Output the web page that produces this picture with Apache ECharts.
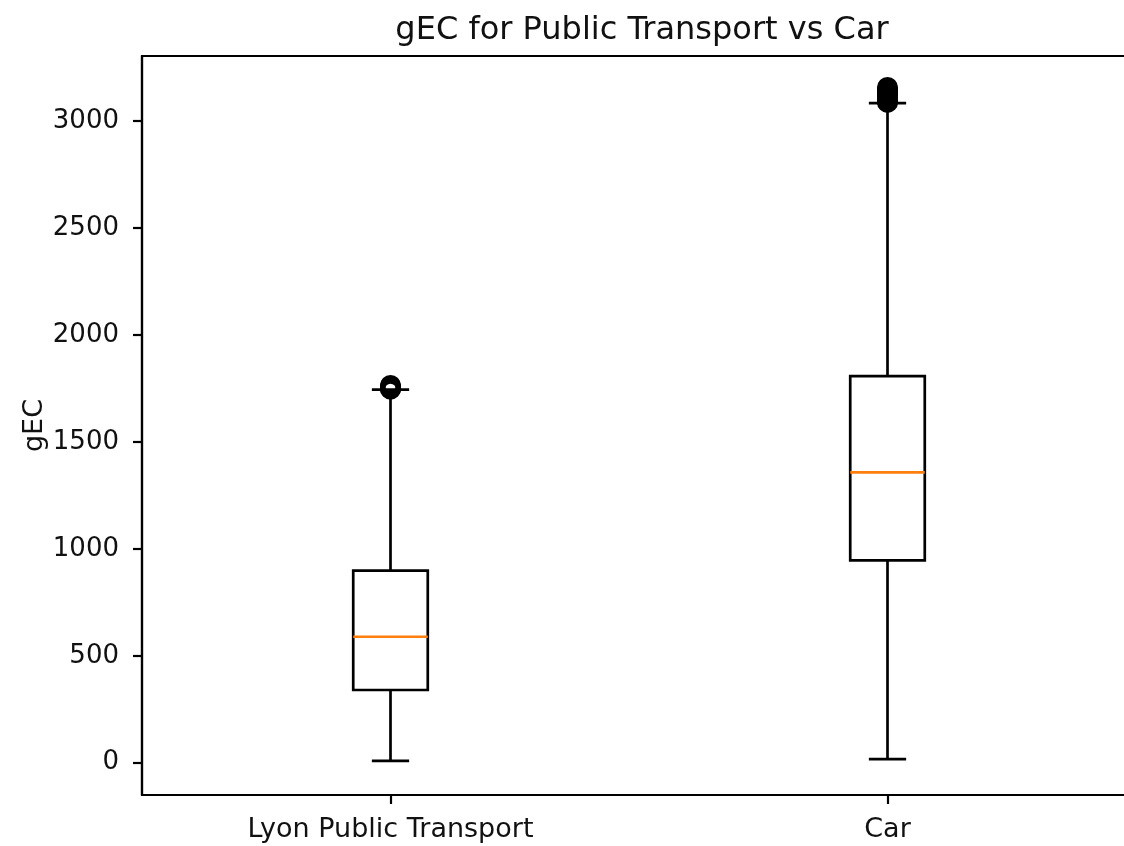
<!DOCTYPE html>
<html>
<head>
<meta charset="utf-8">
<title>gEC for Public Transport vs Car</title>
<script src="https://cdn.jsdelivr.net/npm/echarts@6/dist/echarts.min.js"></script>
<style>
  html, body { margin: 0; padding: 0; background: #fff; }
  #chart { width: 1124px; height: 846px; }
</style>
</head>
<body>
<div id="chart"></div>
<script>
// Box summary per mode of transport
const categories = ['Lyon Public Transport', 'Car'];
const whiskerLow  = [9, 17];
const q1          = [340, 946];
const median      = [589, 1358];
const q3          = [898, 1808];
const whiskerHigh = [1745, 3085];

// Fliers above the upper whisker
const outliersLyon = [1747, 1750, 1753, 1756, 1760, 1764];
const outliersCar  = [3088, 3095, 3102, 3110, 3118, 3126, 3134, 3142, 3150, 3158];

// Y tick labels
const yTicks = [0, 500, 1000, 1500, 2000, 2500, 3000];

const FONT = 'DejaVu Sans';
const INK = '#111';
const LW = 2.7;

const boxData = categories.map((c, i) => [i, whiskerLow[i], q1[i], median[i], q3[i], whiskerHigh[i]]);
const flierData = [];
outliersLyon.forEach(v => flierData.push([0, v]));
outliersCar.forEach(v => flierData.push([1, v]));

function renderBox(params, api) {
  const idx = api.value(0);
  const band = api.size([1, 0])[0];
  const half = band * 0.15 / 2;
  const capHalf = half / 2;
  const pLow = api.coord([idx, api.value(1)]);
  const pQ1 = api.coord([idx, api.value(2)]);
  const pMed = api.coord([idx, api.value(3)]);
  const pQ3 = api.coord([idx, api.value(4)]);
  const pHigh = api.coord([idx, api.value(5)]);
  const x = pQ1[0];
  const black = { stroke: '#000', lineWidth: LW, fill: null };
  return {
    type: 'group',
    children: [
      { type: 'line', shape: { x1: x, y1: pLow[1], x2: x, y2: pQ1[1] }, style: black },
      { type: 'line', shape: { x1: x, y1: pQ3[1], x2: x, y2: pHigh[1] }, style: black },
      { type: 'line', shape: { x1: x - capHalf, y1: pLow[1], x2: x + capHalf, y2: pLow[1] }, style: black },
      { type: 'line', shape: { x1: x - capHalf, y1: pHigh[1], x2: x + capHalf, y2: pHigh[1] }, style: black },
      { type: 'rect', shape: { x: x - half, y: pQ3[1], width: half * 2, height: pQ1[1] - pQ3[1] }, style: { stroke: '#000', lineWidth: LW, fill: '#fff' } },
      { type: 'line', shape: { x1: x - half, y1: pMed[1], x2: x + half, y2: pMed[1] }, style: { stroke: '#ff7f0e', lineWidth: LW } }
    ]
  };
}

const chart = echarts.init(document.getElementById('chart'), null, { renderer: 'canvas' });
chart.setOption({
  animation: false,
  backgroundColor: '#fff',
  title: {
    text: 'gEC for Public Transport vs Car',
    left: 637,
    textAlign: 'center',
    top: 10,
    textStyle: { fontFamily: FONT, fontSize: 32, fontWeight: 'normal', color: INK }
  },
  grid: {
    left: 142, top: 56, width: 994, height: 739,
    outerBoundsMode: 'none',
    containLabel: false,
    show: true, borderColor: '#000', borderWidth: 2.2, backgroundColor: 'transparent'
  },
  xAxis: {
    type: 'category',
    data: categories,
    boundaryGap: true,
    axisLine: { show: true, onZero: false, lineStyle: { color: '#000', width: 2.2 } },
    axisTick: { show: true, alignWithLabel: true, length: 9, lineStyle: { color: '#000', width: 2.2 } },
    axisLabel: { margin: 21, fontFamily: FONT, fontSize: 27, color: INK },
    splitLine: { show: false }
  },
  yAxis: {
    type: 'value',
    min: -151,
    max: 3305,
    name: 'gEC',
    nameLocation: 'middle',
    nameGap: 94,
    nameRotate: 90,
    nameMoveOverlap: false,
    nameTextStyle: { fontFamily: FONT, fontSize: 27, color: INK },
    axisLine: { show: true, onZero: false, lineStyle: { color: '#000', width: 2.2 } },
    axisTick: { show: true, length: 9, customValues: yTicks, lineStyle: { color: '#000', width: 2.2 } },
    axisLabel: {
      margin: 23, fontFamily: FONT, fontSize: 26, color: INK, customValues: yTicks,
      formatter: v => String(v)
    },
    splitLine: { show: false }
  },
  series: [
    {
      type: 'custom',
      renderItem: renderBox,
      data: boxData,
      encode: { x: 0, y: [1, 2, 3, 4, 5] },
      z: 2
    },
    {
      type: 'scatter',
      data: flierData,
      symbol: 'circle',
      symbolSize: 16,
      itemStyle: { color: 'rgba(0,0,0,0)', borderColor: '#000', borderWidth: 5, opacity: 1 },
      z: 3
    }
  ]
});
</script>
</body>
</html>
